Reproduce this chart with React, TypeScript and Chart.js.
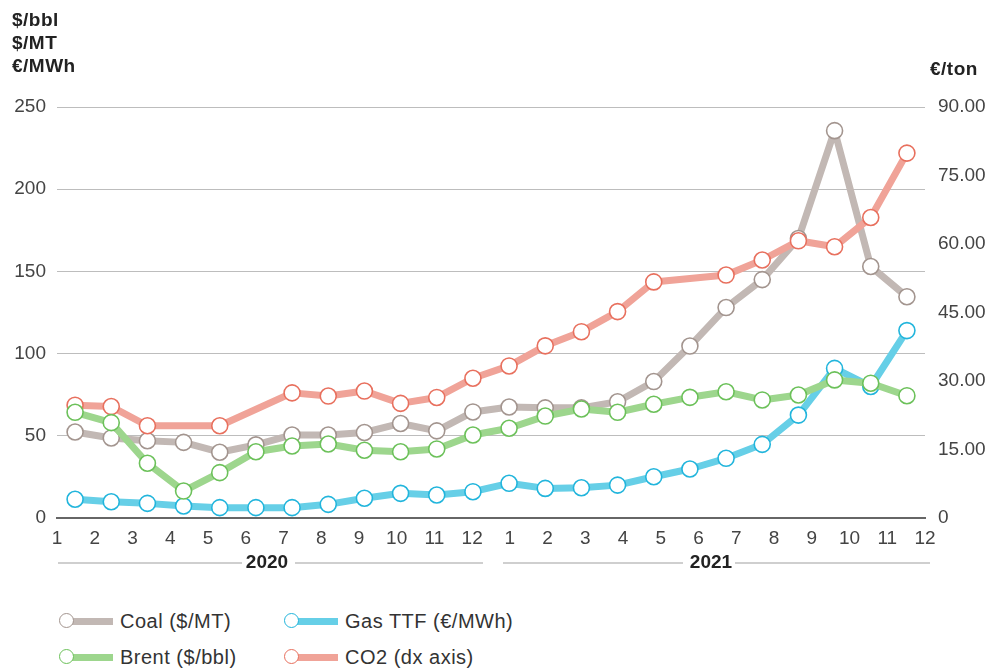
import React, { useEffect, useRef } from "react";
import { Chart, registerables } from "chart.js";

Chart.register(...registerables);

// Periods (monthly, Jan 2020 – Dec 2021)
const periods = [
  "2020-01", "2020-02", "2020-03", "2020-04", "2020-05", "2020-06",
  "2020-07", "2020-08", "2020-09", "2020-10", "2020-11", "2020-12",
  "2021-01", "2021-02", "2021-03", "2021-04", "2021-05", "2021-06",
  "2021-07", "2021-08", "2021-09", "2021-10", "2021-11", "2021-12",
];

// Tick labels on the month axis
const monthTicks = [
  "1", "2", "3", "4", "5", "6", "7", "8", "9", "10", "11", "12",
  "1", "2", "3", "4", "5", "6", "7", "8", "9", "10", "11", "12",
];

const yearLabels = ["2020", "2021"];

// Series (left axis: $/bbl, $/MT, €/MWh)
const coal = [52.3, 48.7, 47, 46, 40, 44.5, 50.5, 50.5, 52, 57.5, 53, 64.5,
  67.5, 67, 67, 70.7, 83, 104.6, 128, 145, 170, 235.6, 153, 134.6];
const brent = [64.3, 58, 33.3, 16.4, 27.6, 40.3, 43.8, 45, 41.2, 40.3, 42, 50.5,
  54.6, 62, 66.3, 64.3, 69.2, 73.4, 76.8, 71.8, 74.8, 84, 82, 74.4];
const gasTTF = [11.4, 9.9, 8.9, 7.3, 6.3, 6.3, 6.3, 8.3, 12, 15, 14, 16,
  21.1, 18, 18.4, 20, 25.1, 29.8, 36.3, 44.8, 62.6, 91, 80, 114];
// Right axis: €/ton
const co2 = [24.7, 24.4, 20.2, null, 20.2, null, 27.4, 26.7, 27.8, 25.1, 26.4, 30.6,
  33.3, 37.7, 40.8, 45.2, 51.7, null, 53.2, 56.5, 60.7, 59.4, 65.8, 79.9];

const leftTicks = { min: 0, max: 250, step: 50 };
const rightTicks = { min: 0, max: 90, step: 15 };

const FONT = '"Liberation Sans", Arial, Helvetica, sans-serif';

const COLORS = {
  coal: { line: "#c2b8b4", marker: "#a3958f" },
  brent: { line: "#9dd68d", marker: "#6cc15a" },
  gas: { line: "#66cfe7", marker: "#22b5dc" },
  co2: { line: "#f0a398", marker: "#e8705e" },
};

const legendItems = [
  { label: "Coal ($/MT)", c: COLORS.coal, left: 67, top: 621 },
  { label: "Gas TTF (€/MWh)", c: COLORS.gas, left: 292, top: 621 },
  { label: "Brent ($/bbl)", c: COLORS.brent, left: 67, top: 657 },
  { label: "CO2 (dx axis)", c: COLORS.co2, left: 292, top: 657 },
];

function ds(label: string, data: (number | null)[], c: { line: string; marker: string }, order: number, yAxisID = "y") {
  return {
    label,
    data,
    xAxisID: "x",
    yAxisID,
    order,
    borderColor: c.line,
    backgroundColor: c.line,
    borderWidth: 7,
    borderJoinStyle: "round",
    pointRadius: 8,
    pointBorderWidth: 1.6,
    pointBackgroundColor: "#ffffff",
    pointBorderColor: c.marker,
    tension: 0,
    spanGaps: true,
  };
}

export default function App() {
  const ref = useRef<HTMLCanvasElement | null>(null);

  useEffect(() => {
    if (!ref.current) return;
    const chart = new Chart(ref.current, {
      type: "line",
      data: {
        labels: periods,
        datasets: [
          ds("Coal ($/MT)", coal, COLORS.coal, 2),
          ds("Gas TTF (€/MWh)", gasTTF, COLORS.gas, 3),
          ds("Brent ($/bbl)", brent, COLORS.brent, 0),
          ds("CO2 (dx axis)", co2, COLORS.co2, 1, "y1"),
        ] as any,
      },
      options: {
        responsive: false,
        animation: false,
        layout: { padding: { top: 107, left: 0, right: 0, bottom: 0 } },
        plugins: { legend: { display: false }, tooltip: { enabled: false } },
        scales: {
          x: {
            type: "category",
            display: false,
            offset: true,
          },
          x2: {
            type: "category",
            labels: monthTicks,
            position: "bottom",
            offset: false,
            grid: { display: false, drawTicks: false },
            border: { display: true, color: "#666666", width: 2 },
            ticks: {
              color: "#444444",
              font: { family: FONT, size: 19 },
              padding: 9,
              autoSkip: false,
              maxRotation: 0,
            },
            afterFit: (s: any) => { s.height = 42; },
          },
          y: {
            position: "left",
            min: leftTicks.min,
            max: leftTicks.max,
            ticks: {
              stepSize: leftTicks.step,
              color: "#444444",
              font: { family: FONT, size: 19 },
              padding: 11,
            },
            grid: {
              drawTicks: false,
              color: (ctx: any) => (ctx.tick && ctx.tick.value === 0 ? "rgba(0,0,0,0)" : "#bdbdbd"),
              lineWidth: 1,
            },
            border: { display: false },
            afterFit: (s: any) => { s.width = 57; },
          },
          y1: {
            position: "right",
            min: rightTicks.min,
            max: rightTicks.max,
            ticks: {
              stepSize: rightTicks.step,
              color: "#444444",
              font: { family: FONT, size: 19 },
              padding: 13,
              callback: (v: any) => (Number(v) === 0 ? "0" : Number(v).toFixed(2)),
            },
            grid: { display: false, drawTicks: false },
            border: { display: false },
            afterFit: (s: any) => { s.width = 64; },
          },
        },
      } as any,
    });
    return () => chart.destroy();
  }, []);

  const unitStyle: React.CSSProperties = {
    position: "absolute",
    fontFamily: FONT,
    fontWeight: 700,
    fontSize: 19,
    letterSpacing: 0.5,
    color: "#222222",
    lineHeight: "23px",
    whiteSpace: "nowrap",
  };

  const yearLine = (left: number, width: number): React.CSSProperties => ({
    position: "absolute",
    left,
    width,
    top: 562,
    height: 1.5,
    background: "#cfcfcf",
  });

  const yearText = (center: number): React.CSSProperties => ({
    position: "absolute",
    left: center - 40,
    width: 80,
    top: 551,
    textAlign: "center",
    fontFamily: FONT,
    fontWeight: 700,
    fontSize: 19,
    lineHeight: "22px",
    color: "#222222",
  });

  return (
    <div style={{ position: "absolute", left: 0, top: 0, width: 989, height: 671, background: "#ffffff", overflow: "hidden" }}>
      <canvas ref={ref} width={989} height={560} style={{ position: "absolute", left: 0, top: 0 }} />
      <div style={{ ...unitStyle, left: 12, top: 8 }}>
        $/bbl<br />$/MT<br />€/MWh
      </div>
      <div style={{ ...unitStyle, left: 930, top: 57 }}>€/ton</div>

      <div style={yearLine(58, 184)} />
      <div style={yearText(267)}>{yearLabels[0]}</div>
      <div style={yearLine(295, 188)} />
      <div style={yearLine(503, 180)} />
      <div style={yearText(711)}>{yearLabels[1]}</div>
      <div style={yearLine(735, 195)} />

      {legendItems.map((it) => (
        <div key={it.label}>
          <div style={{ position: "absolute", left: it.left, top: it.top - 3.5, width: 46, height: 7, background: it.c.line }} />
          <div
            style={{
              position: "absolute",
              left: it.left - 8,
              top: it.top - 8,
              width: 13,
              height: 13,
              borderRadius: "50%",
              border: `1.6px solid ${it.c.marker}`,
              background: "#ffffff",
            }}
          />
          <div
            style={{
              position: "absolute",
              left: it.left + 53,
              top: it.top - 12,
              fontFamily: FONT,
              fontSize: 20,
              letterSpacing: 0.5,
              lineHeight: "24px",
              color: "#333333",
              whiteSpace: "nowrap",
            }}
          >
            {it.label}
          </div>
        </div>
      ))}
    </div>
  );
}
